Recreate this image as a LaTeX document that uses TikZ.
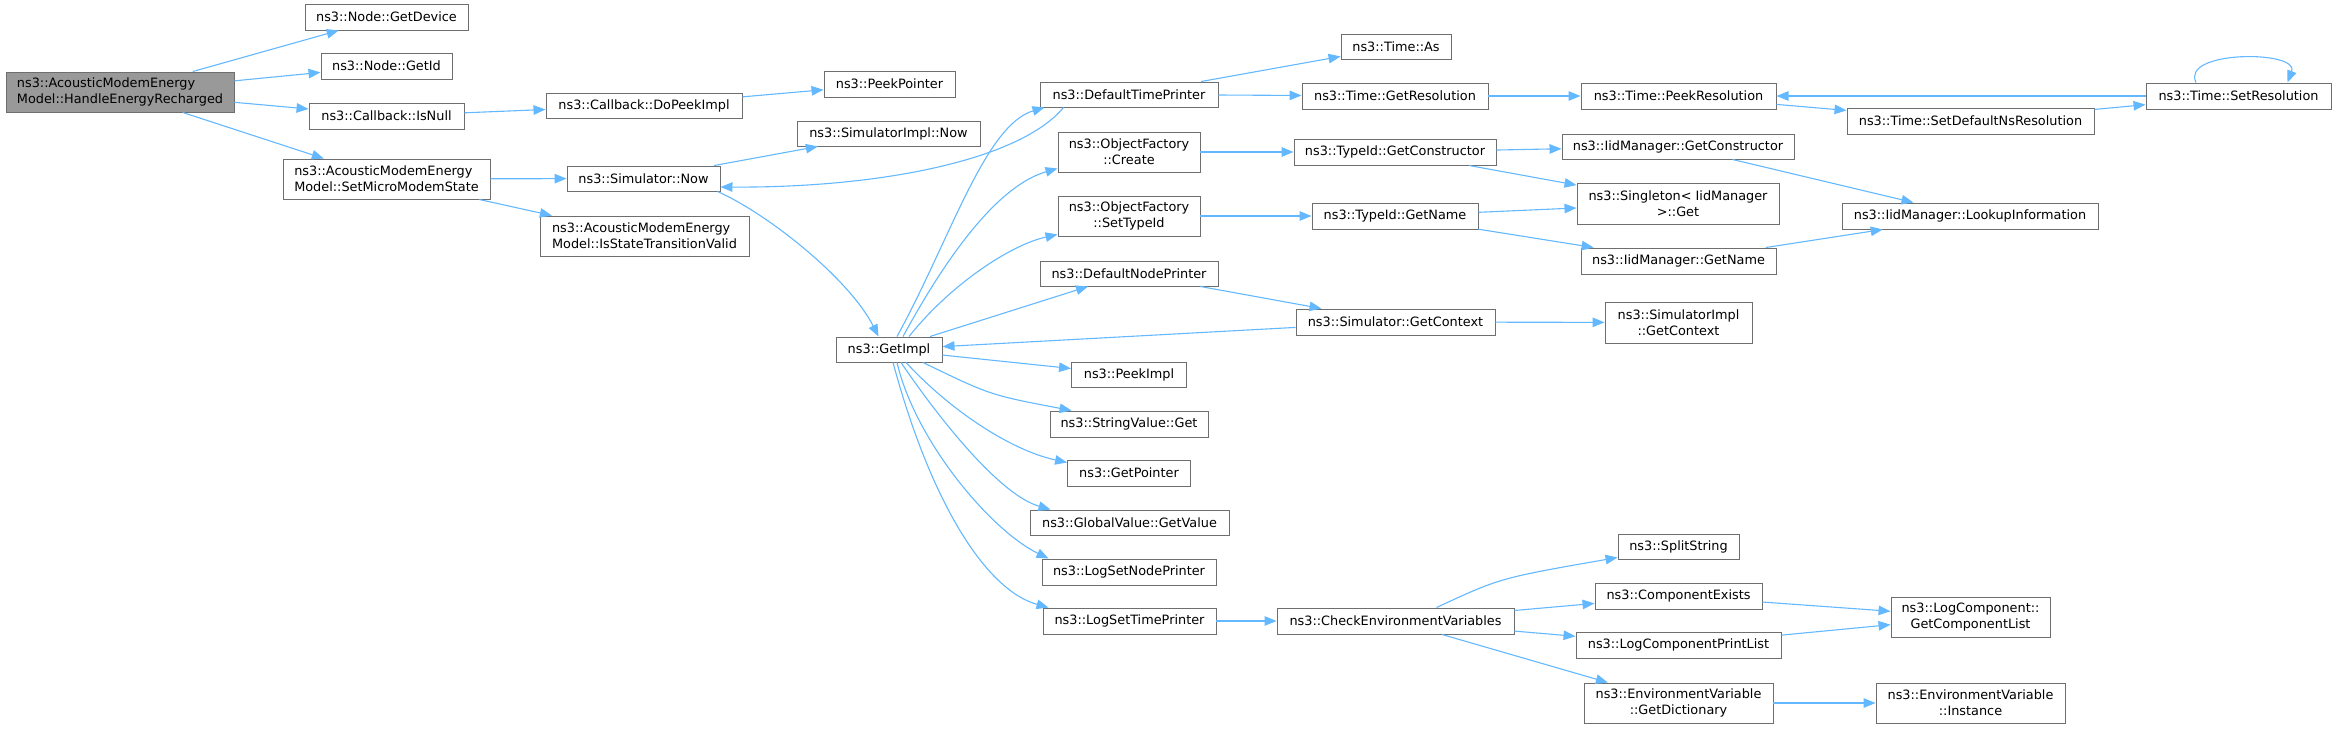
\documentclass[tikz,border=0pt]{standalone}
\usepackage{fontspec}
\newfontfamily\dvs{DejaVu Sans}
\usetikzlibrary{arrows.meta}
\definecolor{cblue}{HTML}{63B8FF}
\definecolor{cbord}{HTML}{6E6E6E}
\definecolor{cfill}{HTML}{999999}
\tikzset{
  fn/.style={draw=cbord, line width=0.95pt, fill=white, inner sep=0pt, align=center,
    font=\dvs\fontsize{12.85}{15.7}\selectfont},
  fnl/.style={fn, align=left},
  rootnode/.style={fn, fill=cfill, align=left},
  edge/.style={draw=cblue, line width=1.1pt, -{Triangle[length=12pt,width=9.5pt]}},
}
\newcommand{\fnode}[6]{\node[#1, minimum width=#4pt, minimum height=#5pt] (#2) at (#3) {#6};}
\begin{document}
\begin{tikzpicture}[x=1pt,y=-1pt]
\useasboundingbox (0,0) rectangle (2336,728);
% nodes
\fnode{rootnode}{root}{120,92}{228}{40}{ns3::AcousticModemEnergy\\Model::HandleEnergyRecharged}
\fnode{fn}{gdev}{386.5,17}{163}{26}{ns3::Node::GetDevice}
\fnode{fn}{gid}{386.5,66}{131}{26}{ns3::Node::GetId}
\fnode{fn}{isnull}{386.5,116}{155}{26}{ns3::Callback::IsNull}
\fnode{fnl}{smms}{386.5,179}{207}{40}{ns3::AcousticModemEnergy\\Model::SetMicroModemState}
\fnode{fn}{dopeek}{644,105.5}{196}{25}{ns3::Callback::DoPeekImpl}
\fnode{fn}{snow}{643.5,178.5}{153}{25}{ns3::Simulator::Now}
\fnode{fnl}{istv}{644.5,236}{209}{40}{ns3::AcousticModemEnergy\\Model::IsStateTransitionValid}
\fnode{fn}{peekptr}{889.5,84}{131}{26}{ns3::PeekPointer}
\fnode{fn}{simplnow}{888.5,133.5}{183}{25}{ns3::SimulatorImpl::Now}
\fnode{fn}{getimpl}{889,349.5}{106}{25}{ns3::GetImpl}
\fnode{fn}{dtp}{1129,94.5}{178}{25}{ns3::DefaultTimePrinter}
\fnode{fn}{ofcreate}{1129,152}{142}{40}{ns3::ObjectFactory\\::Create}
\fnode{fn}{ofsettid}{1129,216}{142}{40}{ns3::ObjectFactory\\::SetTypeId}
\fnode{fn}{dnp}{1129,273.5}{178}{25}{ns3::DefaultNodePrinter}
\fnode{fn}{peekimpl}{1129,374.5}{115}{25}{ns3::PeekImpl}
\fnode{fn}{svget}{1129,424}{158}{26}{ns3::StringValue::Get}
\fnode{fn}{getptr}{1129,473}{123}{26}{ns3::GetPointer}
\fnode{fn}{gvget}{1129.5,522.5}{199}{25}{ns3::GlobalValue::GetValue}
\fnode{fn}{lsnp}{1129,572}{174}{26}{ns3::LogSetNodePrinter}
\fnode{fn}{lstp}{1129.5,621}{173}{26}{ns3::LogSetTimePrinter}
\fnode{fn}{timeas}{1396,46.5}{110}{25}{ns3::Time::As}
\fnode{fn}{tgetres}{1395,96}{186}{26}{ns3::Time::GetResolution}
\fnode{fn}{tidgc}{1395,152}{202}{26}{ns3::TypeId::GetConstructor}
\fnode{fn}{tidgn}{1395,216}{166}{26}{ns3::TypeId::GetName}
\fnode{fn}{sgc}{1395.5,322}{199}{26}{ns3::Simulator::GetContext}
\fnode{fn}{cev}{1395.5,621}{237}{26}{ns3::CheckEnvironmentVariables}
\fnode{fn}{tpeek}{1678.5,96}{195}{26}{ns3::Time::PeekResolution}
\fnode{fn}{iidgc}{1678,146.5}{232}{25}{ns3::IidManager::GetConstructor}
\fnode{fn}{singget}{1678,203.5}{202}{41}{ns3::Singleton< IidManager\\>::Get}
\fnode{fn}{iidgn}{1678.5,261}{195}{26}{ns3::IidManager::GetName}
\fnode{fn}{simplgc}{1678.5,322.5}{147}{41}{ns3::SimulatorImpl\\::GetContext}
\fnode{fn}{split}{1678.5,546.5}{121}{25}{ns3::SplitString}
\fnode{fn}{compex}{1678.5,596}{167}{26}{ns3::ComponentExists}
\fnode{fn}{lcpl}{1678.5,645}{205}{26}{ns3::LogComponentPrintList}
\fnode{fn}{evgd}{1678.5,703}{189}{40}{ns3::EnvironmentVariable\\::GetDictionary}
\fnode{fn}{tsdns}{1970.5,121}{247}{26}{ns3::Time::SetDefaultNsResolution}
\fnode{fn}{iidli}{1970,216}{256}{26}{ns3::IidManager::LookupInformation}
\fnode{fn}{lcgcl}{1970.5,617}{159}{40}{ns3::LogComponent::\\GetComponentList}
\fnode{fn}{evinst}{1970.5,703}{189}{40}{ns3::EnvironmentVariable\\::Instance}
\fnode{fn}{tsetres}{2238.5,96}{185}{26}{ns3::Time::SetResolution}
% edges
\draw[edge] (root) -- (gdev);
\draw[edge] (root) -- (gid);
\draw[edge] (root) -- (isnull);
\draw[edge] (root) -- (smms);
\draw[edge] (isnull) -- (dopeek);
\draw[edge] (dopeek) -- (peekptr);
\draw[edge] (smms) -- (snow);
\draw[edge] (smms) -- (istv);
\draw[edge] (snow) -- (simplnow);
\draw[edge] ([xshift=-3pt]snow.south east) .. controls (770,215) and (850,280) .. ([xshift=-10.5pt]getimpl.north);
\draw[edge] ([xshift=24pt]dtp.south west) .. controls (1020,160) and (880,188) .. ([yshift=-8.5pt]snow.east);
\draw[edge] ([xshift=8pt]getimpl.north) .. controls (950,240) and (985,125) .. ([xshift=5pt]dtp.south west);
\draw[edge] ([xshift=14pt]getimpl.north) .. controls (950,250) and (1000,185) .. ([yshift=4pt]ofcreate.south west);
\draw[edge] ([xshift=20pt]getimpl.north) .. controls (950,285) and (1010,245) .. ([yshift=2pt]ofsettid.south west);
\draw[edge] (getimpl) -- (dnp);
\draw[edge] (getimpl) -- (peekimpl);
\draw[edge] ([xshift=34pt]getimpl.south) .. controls (990,395) .. ([xshift=22pt]svget.north west);
\draw[edge] ([xshift=17pt]getimpl.south) .. controls (950,410) and (1010,450) .. ([yshift=-3pt]getptr.north west);
\draw[edge] ([xshift=12pt]getimpl.south) .. controls (940,420) and (1000,495) .. ([xshift=21pt]gvget.north west);
\draw[edge] ([xshift=8pt]getimpl.south) .. controls (915,440) and (990,530) .. ([xshift=7pt]lsnp.north west);
\draw[edge] ([xshift=4pt]getimpl.south) .. controls (930,500) and (985,590) .. ([xshift=6pt]lstp.north west);
\draw[edge] (dtp) -- (timeas);
\draw[edge] (dtp) -- (tgetres);
\draw[edge] (tgetres) -- (tpeek);
\draw[edge] (tpeek) -- (tsdns);
\draw[edge] (tsdns) -- (tsetres);
\draw[edge] (tsetres) -- (tpeek);
\draw[edge] ([xshift=-42.5pt]tsetres.north) .. controls (2180,50) and (2300,50) .. ([xshift=49pt]tsetres.north);
\draw[edge] (ofcreate) -- (tidgc);
\draw[edge] (tidgc) -- (iidgc);
\draw[edge] (tidgc) -- (singget);
\draw[edge] (iidgc) -- (iidli);
\draw[edge] (ofsettid) -- (tidgn);
\draw[edge] (tidgn) -- (singget);
\draw[edge] (tidgn) -- (iidgn);
\draw[edge] (iidgn) -- (iidli);
\draw[edge] (dnp) -- (sgc);
\draw[edge] (sgc) -- (getimpl);
\draw[edge] (sgc) -- (simplgc);
\draw[edge] (lstp) -- (cev);
\draw[edge] ([xshift=41pt]cev.north) .. controls (1500,578) .. ([yshift=2pt]split.south west);
\draw[edge] (cev) -- (compex);
\draw[edge] (cev) -- (lcpl);
\draw[edge] (cev) -- (evgd);
\draw[edge] (compex) -- (lcgcl);
\draw[edge] (lcpl) -- (lcgcl);
\draw[edge] (evgd) -- (evinst);
\end{tikzpicture}
\end{document}
